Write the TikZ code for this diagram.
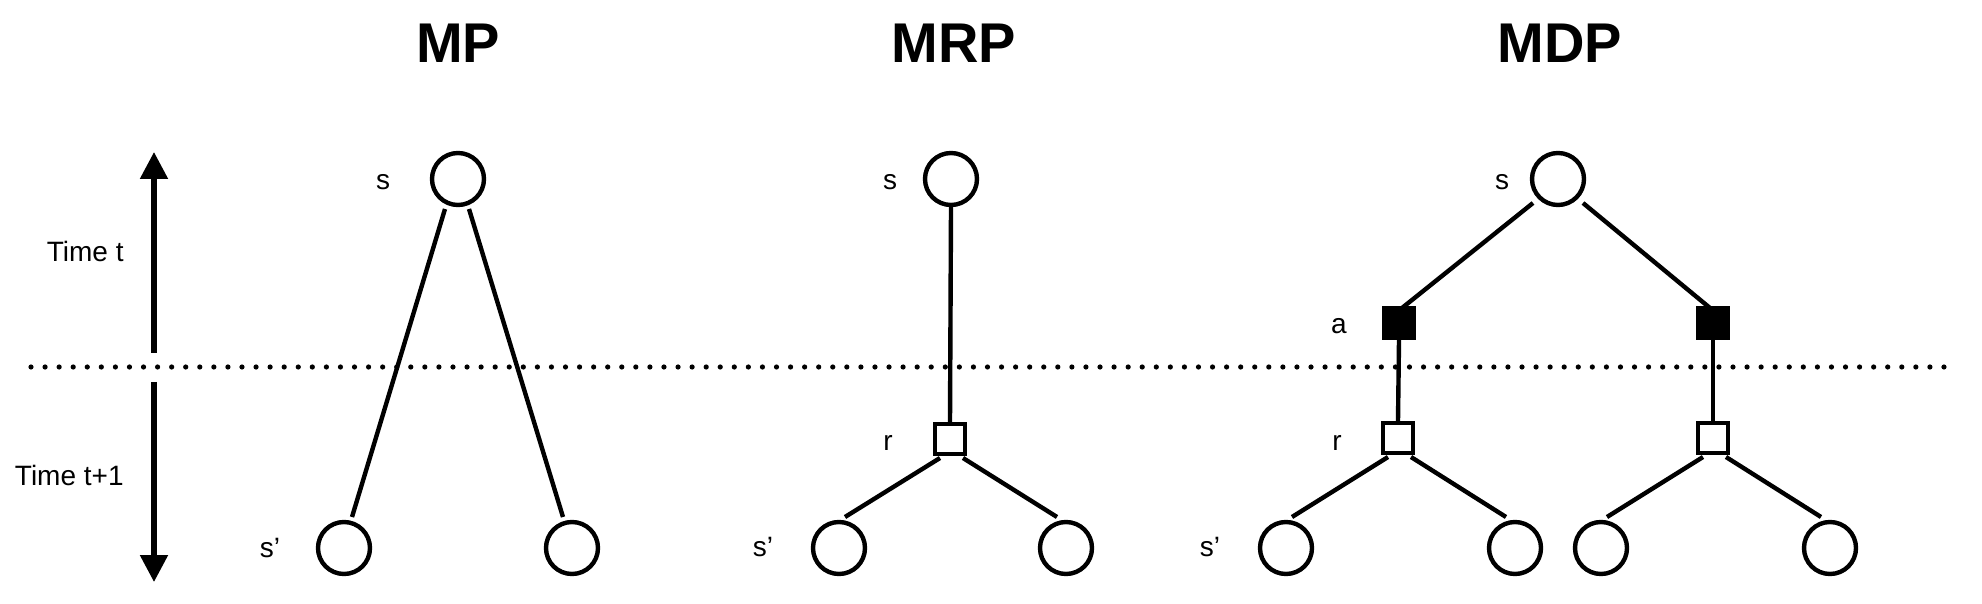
\documentclass[tikz,border=0pt]{standalone}
\usepackage{fontspec}
\setmainfont{Liberation Sans}
\usetikzlibrary{arrows.meta,calc}
\begin{document}
\begin{tikzpicture}[x=0.5pt,y=-0.5pt,
  st/.style={circle,draw,line width=2.2pt,minimum size=26pt,inner sep=0pt},
  sq/.style={rectangle,draw,line width=2.2pt,minimum size=15pt,inner sep=0pt},
  sqf/.style={sq,fill=black},
  edge/.style={line width=2.2pt},
  lbl/.style={font=\fontsize{14pt}{16pt}\selectfont,inner sep=0pt,anchor=base},
  ttl/.style={font=\bfseries\fontsize{28pt}{32pt}\selectfont,inner sep=0pt},
  tarrow/.style={line width=2.6pt,-{Triangle[length=13.5pt,width=13.5pt]}}
]
\useasboundingbox (0,0) rectangle (1982,604);
% titles
\node[ttl] (tmp) at (458,43) {MP};
\node[ttl] (tmrp) at (954,43) {MRP};
\node[ttl] (tmdp) at (1560,43) {MDP};
% time axis
\coordinate (aup0) at (154,353);
\coordinate (aup1) at (154,152);
\coordinate (adn0) at (154,382);
\coordinate (adn1) at (154,582);
\draw[tarrow] (aup0) -- (aup1);
\draw[tarrow] (adn0) -- (adn1);
\node[lbl,anchor=base east] (tt) at (124,262) {Time t};
\node[lbl,anchor=base east] (tt1) at (124,485) {Time t+1};
% dotted line
\coordinate (d0) at (31,367);
\coordinate (d1) at (1946,367);
\draw[line width=2.6pt,line cap=round,dash pattern=on 0pt off 7.033pt] (d0) -- (d1);
% MP
\node[st] (mps) at (458,179) {};
\node[st] (mpl) at (344,548) {};
\node[st] (mpr) at (572,548) {};
\node[lbl] (mpsl) at (383,190) {s};
\node[lbl] (mpll) at (270,557) {s’};
\draw[edge] ($(mps)+(-13,30)$) -- ($(mpl)+(8,-31)$);
\draw[edge] ($(mps)+(11,30)$) -- ($(mpr)+(-9,-31)$);
% MRP
\node[st] (mrs) at (951,179) {};
\node[sq] (mrr) at (950,439) {};
\node[st] (mrl) at (839,548) {};
\node[st] (mrrt) at (1066,548) {};
\node[lbl] (mrsl) at (890,190) {s};
\node[lbl] (mrrl) at (888,450) {r};
\node[lbl] (mrll) at (763,556) {s’};
\draw[edge] (mrs.south) -- (mrr.north);
\draw[edge] ($(mrr)+(-10,19)$) -- ($(mrl)+(6,-31)$);
\draw[edge] ($(mrr)+(13,19)$) -- ($(mrrt)+(-9,-31)$);
% MDP
\node[st] (mds) at (1558,179) {};
\node[sqf] (mda1) at (1399,323) {};
\node[sqf] (mda2) at (1713,323) {};
\node[sq] (mdr1) at (1398,438) {};
\node[sq] (mdr2) at (1713,438) {};
\node[st] (mdl1) at (1286,548) {};
\node[st] (mdl2) at (1515,548) {};
\node[st] (mdl3) at (1601,548) {};
\node[st] (mdl4) at (1830,548) {};
\node[lbl] (mdsl) at (1502,190) {s};
\node[lbl] (mdal) at (1339,334) {a};
\node[lbl] (mdrl) at (1337,450) {r};
\node[lbl] (mdll) at (1210,556) {s’};
\draw[edge] ($(mds)+(-25,24)$) -- ($(mda1)+(3,-15)$);
\draw[edge] ($(mds)+(25,24)$) -- ($(mda2)+(-3,-15)$);
\draw[edge] (mda1.south) -- (mdr1.north);
\draw[edge] (mda2.south) -- (mdr2.north);
\draw[edge] ($(mdr1)+(-10,19)$) -- ($(mdl1)+(6,-31)$);
\draw[edge] ($(mdr1)+(13,19)$) -- ($(mdl2)+(-9,-31)$);
\draw[edge] ($(mdr2)+(-10,19)$) -- ($(mdl3)+(6,-31)$);
\draw[edge] ($(mdr2)+(13,19)$) -- ($(mdl4)+(-9,-31)$);
\end{tikzpicture}
\end{document}
